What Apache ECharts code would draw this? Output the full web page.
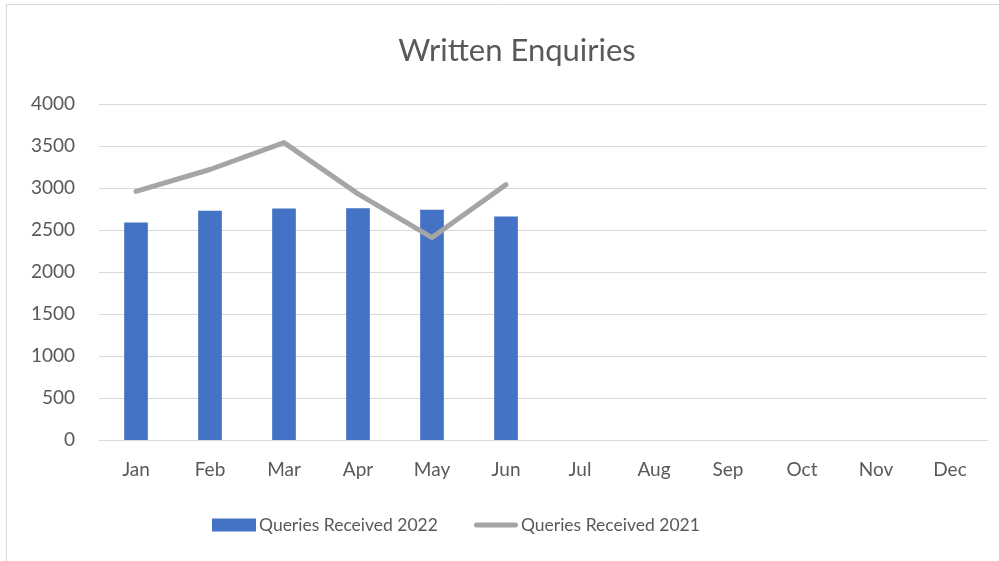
<!DOCTYPE html>
<html lang="en">
  <head>
    <meta charset="UTF-8" />
    <title>Written Enquiries</title>
    <style>
      html, body { margin: 0; padding: 0; background: #fff; }
      #main { width: 999px; height: 561px; }
    </style>
  </head>
  <body>
    <div id="main"></div>
    <script src="https://cdn.jsdelivr.net/npm/echarts@6/dist/echarts.min.js"></script>
    <script>
      const months = ['Jan', 'Feb', 'Mar', 'Apr', 'May', 'Jun', 'Jul', 'Aug', 'Sep', 'Oct', 'Nov', 'Dec']
      const received2022 = [2590, 2730, 2755, 2760, 2740, 2660, null, null, null, null, null, null]
      const received2021 = [2960, 3220, 3540, 2930, 2410, 3040, null, null, null, null, null, null]

      const font = 'Lato, "Open Sans", sans-serif'
      // thick rounded line for the 2021 legend entry (M points keep the box 44x13)
      const lineIcon = 'path://M0,0 M44,13 M2.5,4 L41.5,4 A2.5,2.5 0 0 1 41.5,9 L2.5,9 A2.5,2.5 0 0 1 2.5,4 Z'
      const chart = echarts.init(document.getElementById('main'))

      chart.setOption({
        animation: false,
        title: {
          text: 'Written Enquiries',
          left: 512,
          textAlign: 'center',
          top: 30,
          textStyle: { fontFamily: font, fontSize: 31, fontWeight: 'normal', color: '#595959' }
        },
        graphic: [
          {
            type: 'rect',
            shape: { x: 6.5, y: 4.5, width: 1100, height: 700 },
            style: { fill: 'none', stroke: '#d9d9d9', lineWidth: 1 },
            silent: true
          }
        ],
        legend: {
          bottom: 27,
          left: 212,
          padding: 0,
          itemGap: 36,
          textStyle: { fontFamily: font, fontSize: 17.5, color: '#595959', padding: [0, 0, 0, -2] },
          data: [
            { name: 'Queries Received 2022', icon: 'rect', itemStyle: { color: '#4472C4' } },
            { name: 'Queries Received 2021', icon: lineIcon, itemStyle: { color: '#A5A5A5' } }
          ],
          itemWidth: 44,
          itemHeight: 13
        },
        grid: { left: 99, right: 12, top: 104, bottom: 121 },
        xAxis: {
          type: 'category',
          data: months,
          axisLine: { lineStyle: { color: '#d9d9d9', width: 1 } },
          axisTick: { show: false },
          axisLabel: { fontFamily: font, fontSize: 19, color: '#595959', margin: 20 }
        },
        yAxis: {
          type: 'value',
          min: 0,
          max: 4000,
          interval: 500,
          axisLine: { show: false },
          axisTick: { show: false },
          splitLine: { lineStyle: { color: '#d9d9d9', width: 1 } },
          axisLabel: {
            fontFamily: font,
            fontSize: 19,
            color: '#595959',
            margin: 24,
            formatter: (v) => String(v)
          }
        },
        series: [
          {
            name: 'Queries Received 2022',
            type: 'bar',
            data: received2022,
            barWidth: '32%',
            itemStyle: { color: '#4472C4' }
          },
          {
            name: 'Queries Received 2021',
            type: 'line',
            data: received2021,
            symbol: 'none',
            lineStyle: { color: '#A5A5A5', width: 5, cap: 'round', join: 'round' },
            itemStyle: { color: '#A5A5A5' }
          }
        ]
      })
    </script>
  </body>
</html>
